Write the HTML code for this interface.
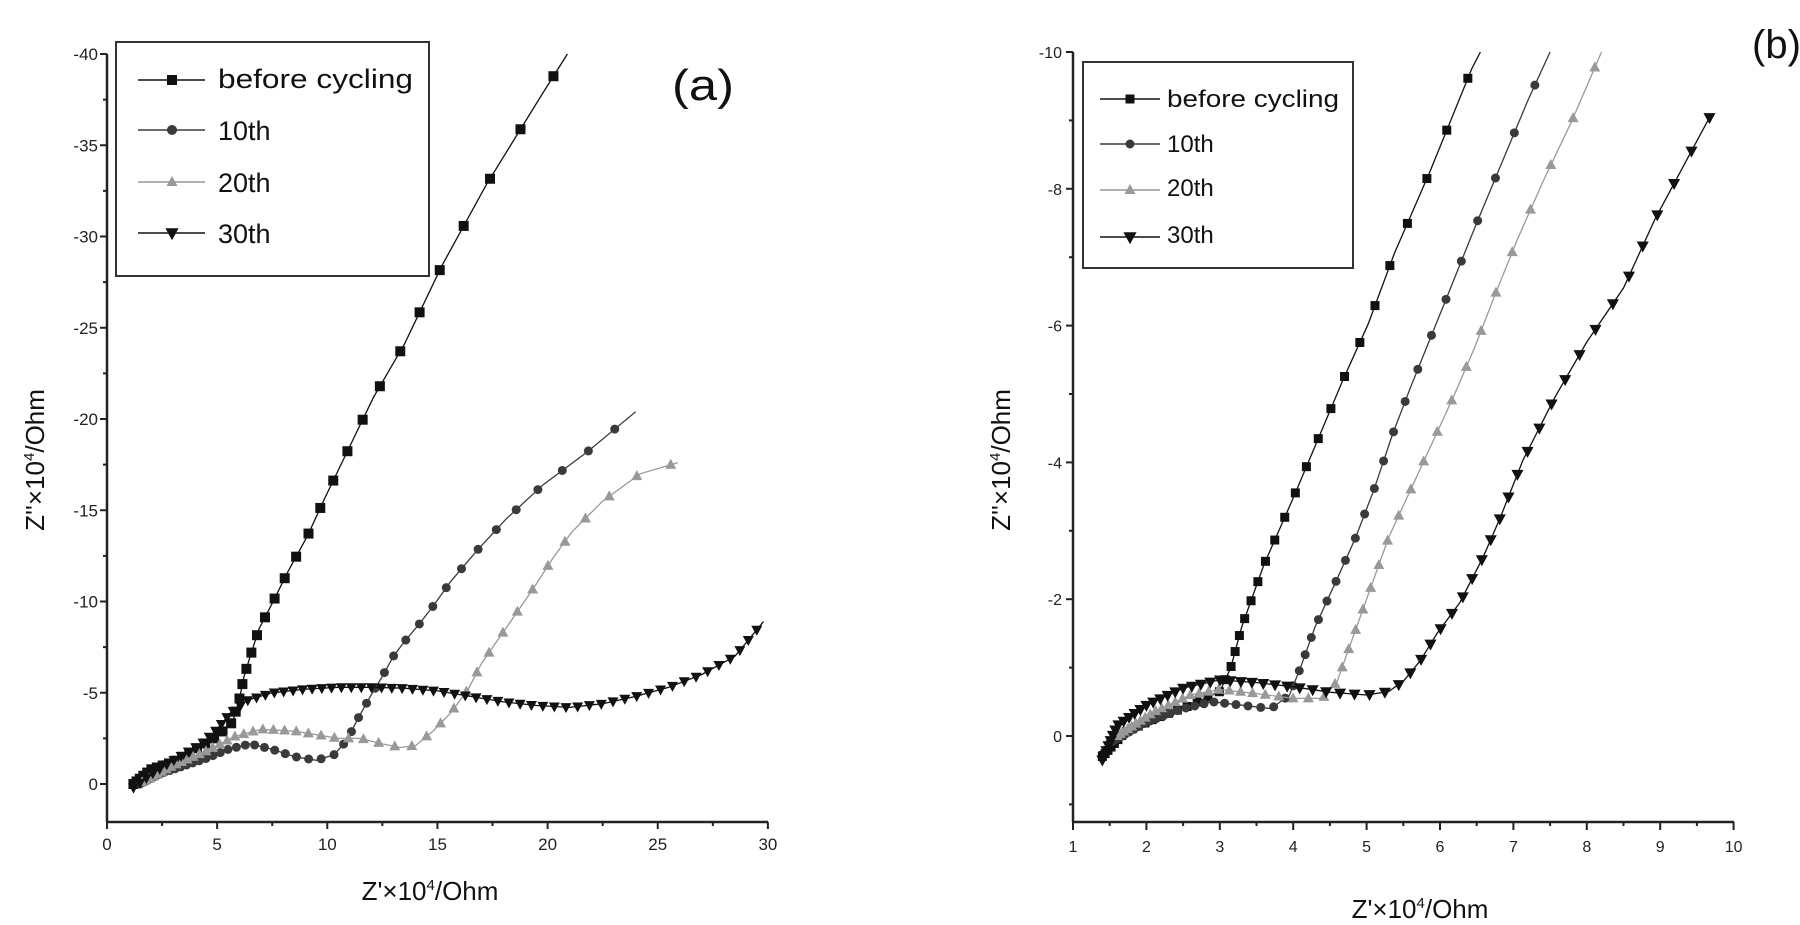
<!DOCTYPE html>
<html><head><meta charset="utf-8"><style>
html,body{margin:0;padding:0;background:#fff;}
svg{display:block;font-family:"Liberation Sans",sans-serif;}
</style></head><body>
<svg id="s" width="1800" height="925" viewBox="0 0 1800 925" xmlns="http://www.w3.org/2000/svg">
<rect width="1800" height="925" fill="#fff"/>
<g id="g"></g>
<rect x="116" y="42" width="313" height="234" fill="none" stroke="#333" stroke-width="2"/>
<text x="218" y="88" font-size="27" textLength="195" lengthAdjust="spacingAndGlyphs" fill="#111">before cycling</text>
<text x="218" y="140" font-size="27" fill="#111">10th</text>
<text x="218" y="192" font-size="27" fill="#111">20th</text>
<text x="218" y="243" font-size="27" fill="#111">30th</text>
<text x="672" y="100" font-size="44" textLength="62" lengthAdjust="spacingAndGlyphs" fill="#111">(a)</text>
<rect x="1083" y="62" width="270" height="206" fill="none" stroke="#333" stroke-width="2"/>
<text x="1167" y="107" font-size="24" textLength="172" lengthAdjust="spacingAndGlyphs" fill="#111">before cycling</text>
<text x="1167" y="152" font-size="24" fill="#111">10th</text>
<text x="1167" y="196" font-size="24" fill="#111">20th</text>
<text x="1167" y="243" font-size="24" fill="#111">30th</text>
<text x="1752" y="58" font-size="40" fill="#111">(b)</text>
<text transform="translate(44,460) rotate(-90)" text-anchor="middle" font-size="26" fill="#111">Z''×10<tspan dy="-10" font-size="15">4</tspan><tspan dy="10">/Ohm</tspan></text>
<text transform="translate(1010,460) rotate(-90)" text-anchor="middle" font-size="26" fill="#111">Z''×10<tspan dy="-10" font-size="15">4</tspan><tspan dy="10">/Ohm</tspan></text>
<text x="430" y="900" text-anchor="middle" font-size="26" fill="#111">Z'×10<tspan dy="-10" font-size="15">4</tspan><tspan dy="10">/Ohm</tspan></text>
<text x="1420" y="918" text-anchor="middle" font-size="26" fill="#111">Z'×10<tspan dy="-10" font-size="15">4</tspan><tspan dy="10">/Ohm</tspan></text>
</svg>
<script>
var NS="http://www.w3.org/2000/svg",G=document.getElementById('g');
function el(t,a){var e=document.createElementNS(NS,t);for(var k in a)e.setAttribute(k,a[k]);G.appendChild(e);return e;}
function txt(x,y,s,fs,anc){var e=el('text',{x:x,y:y,'font-size':fs,'text-anchor':anc||'middle',fill:'#222'});e.textContent=s;}
function marker(type,x,y,c,r){
 if(type=='s')el('rect',{x:x-r,y:y-r,width:2*r,height:2*r,fill:c});
 else if(type=='c')el('circle',{cx:x,cy:y,r:r,fill:c});
 else if(type=='t')el('polygon',{points:(x)+','+(y-r*1.2)+' '+(x-r*1.1)+','+(y+r*0.8)+' '+(x+r*1.1)+','+(y+r*0.8),fill:c});
 else el('polygon',{points:(x)+','+(y+r*1.2)+' '+(x-r*1.1)+','+(y-r*0.8)+' '+(x+r*1.1)+','+(y-r*0.8),fill:c});
}
function series(P,pts,type,col,a,b,r,ytop){
 var q=pts.map(function(p){return [P.x0+(p[0]-P.xmin)*P.xu, P.y0-p[1]*P.yu];});
 var d='M'+q.map(function(p){return p[0].toFixed(1)+','+p[1].toFixed(1)}).join('L');
 el('path',{d:d,fill:'none',stroke:col,'stroke-width':1.3});
 var arc=0,next=0;
 for(var i=0;i<q.length-1;i++){
  var dx=q[i+1][0]-q[i][0],dy=q[i+1][1]-q[i][1],L=Math.sqrt(dx*dx+dy*dy);
  while(next<=arc+L){var t=(next-arc)/L,x=q[i][0]+dx*t,y=q[i][1]+dy*t;
   if(y>ytop+6)marker(type,x,y,col,r);
   next+=a+b*next;}
  arc+=L;}
}
var A={x0:107,xmin:0,xu:22.03,y0:784,yu:18.25};
el('line',{x1:107,y1:54,x2:107,y2:822,stroke:'#222','stroke-width':2.5});
el('line',{x1:106,y1:822,x2:768,y2:822,stroke:'#222','stroke-width':2.5});
for(var v=0;v<=40;v+=2.5){var y=784-v*18.25;if(y<52)continue;var maj=v%5==0;
 el('line',{x1:maj?100:103,y1:y,x2:107,y2:y,stroke:'#222','stroke-width':2});
 if(maj)txt(98,y+6,v==0?'0':'-'+v,17,'end');}
for(var v=0;v<=30;v+=2.5){var x=107+v*22.03,maj=v%5==0;
 el('line',{x1:x,y1:822,x2:x,y2:maj?829:826,stroke:'#222','stroke-width':2});
 if(maj)txt(x,850,''+v,17);}
series(A,[[1.2,0],[2,0.8],[3,1.2],[4,1.9],[5,2.6],[5.7,3.4],[6.0,4.6],[6.2,5.8],[6.5,7],[6.9,8.5],[7.5,9.9],[8.2,11.6],[9.1,13.6],[9.9,15.7],[10.9,18.2],[12.1,21.2],[13.5,24.1],[15.2,28.4],[17.2,32.8],[19.7,37.7],[20.9,40]],'s','#111',4,0.075,5,54);
series(A,[[1.5,0],[2.5,0.6],[3.5,1],[4.5,1.4],[5.5,1.9],[6.5,2.2],[7.5,1.9],[8.5,1.5],[9.5,1.3],[10.3,1.6],[10.9,2.4],[11.4,3.6],[12,4.9],[12.5,5.9],[13,7.0],[13.5,7.8],[14.2,8.8],[14.9,9.9],[15.6,11.1],[16.8,12.8],[18.1,14.5],[19.8,16.4],[21.8,18.2],[24,20.4]],'c','#3a3a3a',4,0.05,4.5,54);
series(A,[[1.6,0.1],[3,1],[4.5,1.8],[5.8,2.6],[7,3],[8.5,2.9],[9.5,2.7],[10.5,2.5],[11.5,2.5],[12.5,2.2],[13.3,2],[14,2.1],[14.8,2.9],[15.6,3.9],[16.4,5.2],[17,6.6],[17.8,8],[18.6,9.4],[19.4,10.8],[20.2,12.3],[21.1,13.8],[22.5,15.5],[24.2,17.0],[25.9,17.6]],'t','#999',4,0.05,5,54);
series(A,[[1.2,-0.2],[2.2,0.7],[3.3,1.5],[4.3,2.2],[5,3],[5.6,3.9],[6.4,4.6],[7.5,5.0],[9,5.2],[10.5,5.3],[12,5.3],[13.5,5.25],[15,5.1],[16.5,4.8],[18,4.5],[19.5,4.3],[21,4.2],[22.5,4.4],[24,4.8],[25.5,5.3],[27,6.0],[28.5,7.0],[29.8,8.9]],'v','#111',8,0.008,5,54);
var B={x0:1073,xmin:1,xu:73.4,y0:736,yu:68.4};
el('line',{x1:1073,y1:52,x2:1073,y2:822,stroke:'#222','stroke-width':2.5});
el('line',{x1:1072,y1:822,x2:1734,y2:822,stroke:'#222','stroke-width':2.5});
for(var v=-1;v<=10;v+=1){var y=736-v*68.4,maj=v%2==0&&v>=0;
 el('line',{x1:maj?1066:1069,y1:y,x2:1073,y2:y,stroke:'#222','stroke-width':2});
 if(maj)txt(1062,y+6,v==0?'0':'-'+v,16,'end');}
for(var v=1;v<=10;v+=0.5){var x=1073+(v-1)*73.4,maj=v%1==0;
 el('line',{x1:x,y1:822,x2:x,y2:maj?830:826,stroke:'#222','stroke-width':2});
 if(maj)txt(x,852,''+v,16);}
series(B,[[1.4,-0.3],[1.7,0.05],[2.1,0.25],[2.6,0.45],[3.0,0.65],[3.15,1.0],[3.3,1.6],[3.6,2.5],[4.0,3.48],[4.35,4.37],[4.68,5.21],[5.02,6.02],[5.38,7.06],[5.87,8.27],[6.43,9.75],[6.55,10]],'s','#111',4,0.07,4.5,52);
series(B,[[1.5,-0.1],[2,0.2],[2.5,0.4],[2.9,0.5],[3.3,0.45],[3.7,0.4],[3.95,0.6],[4.1,1.0],[4.3,1.6],[4.6,2.3],[4.85,2.9],[5.1,3.6],[5.35,4.4],[5.6,5.1],[5.9,5.9],[6.2,6.7],[6.5,7.5],[6.85,8.4],[7.2,9.3],[7.5,10]],'c','#3a3a3a',4,0.06,4.5,52);
series(B,[[1.6,0],[2.1,0.35],[2.6,0.6],[3.0,0.68],[3.5,0.62],[4.0,0.55],[4.4,0.55],[4.6,0.8],[4.8,1.4],[5.0,2.0],[5.3,2.9],[5.6,3.6],[5.9,4.3],[6.2,5.0],[6.48,5.7],[6.75,6.45],[7.05,7.25],[7.4,8.1],[7.8,9.0],[8.2,10]],'t','#999',4,0.06,5,52);
series(B,[[1.4,-0.35],[1.6,0.15],[2,0.45],[2.5,0.7],[3,0.82],[3.5,0.78],[4,0.72],[4.5,0.64],[5,0.6],[5.3,0.65],[5.5,0.8],[5.73,1.1],[5.96,1.5],[6.27,1.95],[6.59,2.62],[6.82,3.19],[7.13,4.03],[7.57,4.96],[8.0,5.76],[8.5,6.55],[8.93,7.56],[9.45,8.6],[9.7,9.1]],'v','#111',5,0.035,5.5,52);
function leg(x1,x2,mx,y,type,col,r){el('line',{x1:x1,y1:y,x2:x2,y2:y,stroke:col,'stroke-width':1.5});marker(type,mx,y,col,r);}
leg(138,205,172,80,'s','#111',5);leg(138,205,172,130,'c','#3a3a3a',5);leg(138,205,172,182,'t','#999',5);leg(138,205,172,233,'v','#111',6);
leg(1100,1160,1130,99,'s','#111',4.5);leg(1100,1160,1130,144,'c','#3a3a3a',4.5);leg(1100,1160,1130,190,'t','#999',5);leg(1100,1160,1130,237,'v','#111',6);
</script>
</body></html>
